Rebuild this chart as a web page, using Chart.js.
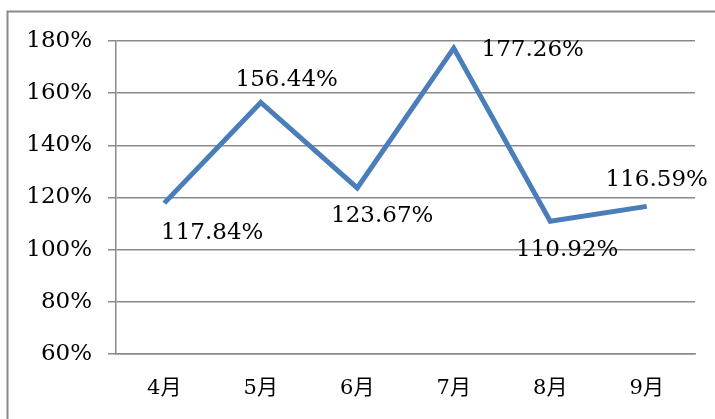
<!DOCTYPE html>
<html>
<head>
<meta charset="utf-8">
<script src="https://cdn.jsdelivr.net/npm/chart.js@4.4.0/dist/chart.umd.min.js"></script>
<style>
  body { margin: 0; background: #fff; }
</style>
</head>
<body>
<canvas id="myChart" width="715" height="419"></canvas>
<script>
var months = ["4月", "5月", "6月", "7月", "8月", "9月"];
var ratios = [117.84, 156.44, 123.67, 177.26, 110.92, 116.59];
var yMin = 60, yMax = 180, yStep = 20;

// label placement relative to each point (dx, dy of text centre)
var labelOffsets = [[48, 30], [26, -22], [25, 28], [79, 2], [17, 29], [10, -26]];

var frame = {
    id: 'frame',
    beforeDraw: function(chart) {
        var c = chart.ctx;
        c.save();
        c.strokeStyle = '#8a8a8a';
        c.lineWidth = 2;
        c.strokeRect(7.5, 11.5, 800, 500);
        c.restore();
    }
};

var valueLabels = {
    id: 'valueLabels',
    afterDatasetsDraw: function(chart) {
        var c = chart.ctx;
        var pts = chart.getDatasetMeta(0).data;
        c.save();
        c.font = '23px "DejaVu Serif", serif';
        c.fillStyle = '#000';
        c.textAlign = 'center';
        c.textBaseline = 'middle';
        pts.forEach(function(p, i) {
            var o = labelOffsets[i];
            c.fillText(ratios[i].toFixed(2) + '%', p.x + o[0], p.y + o[1]);
        });
        c.restore();
    }
};

var ctx = document.getElementById("myChart").getContext("2d");
var myChart = new Chart(ctx, {
    type: 'line',
    data: {
        labels: months,
        datasets: [{
            data: ratios,
            borderColor: '#4a7ebb',
            borderWidth: 5,
            pointRadius: 0,
            tension: 0,
            fill: false
        }]
    },
    options: {
        responsive: false,
        animation: false,
        layout: { padding: { left: 0, top: 41, right: 20, bottom: 0 } },
        plugins: { legend: { display: false }, tooltip: { enabled: false } },
        scales: {
            x: {
                offset: true,
                afterFit: function(s) { s.height = 65; },
                grid: { display: false, drawTicks: false },
                border: { display: true, color: '#8a8a8a', width: 1.5 },
                ticks: {
                    color: '#000',
                    padding: 22,
                    font: { family: '"DejaVu Serif", "Noto Sans CJK JP", serif', size: 21 }
                }
            },
            y: {
                min: yMin,
                max: yMax,
                afterFit: function(s) { s.width = 116; },
                grid: { color: '#8a8a8a', lineWidth: 1.5, tickLength: 8 },
                border: { display: true, color: '#8a8a8a', width: 1.5 },
                ticks: {
                    stepSize: yStep,
                    color: '#000',
                    padding: 16,
                    font: { family: '"DejaVu Serif", serif', size: 23 },
                    callback: function(v) { return v + '%'; }
                }
            }
        }
    },
    plugins: [frame, valueLabels]
});
</script>
</body>
</html>
